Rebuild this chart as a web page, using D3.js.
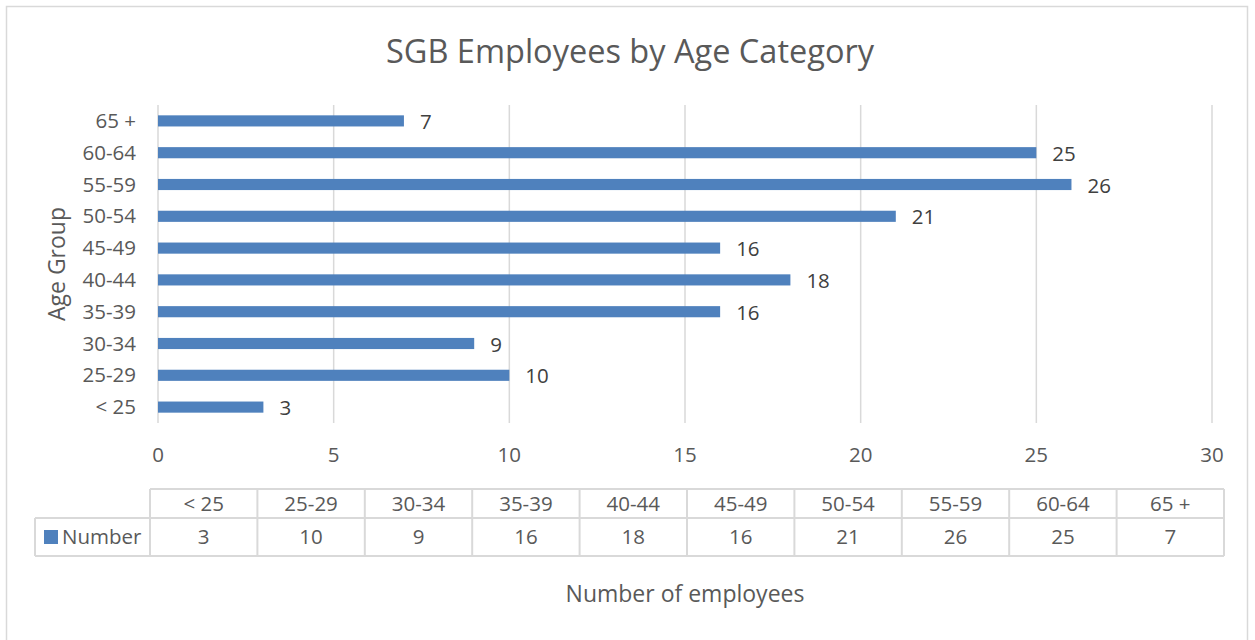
<!DOCTYPE html>
<html>
<head>
<meta charset="utf-8">
<script src="https://cdn.jsdelivr.net/npm/d3@7"></script>
<style>
  body { margin: 0; background: #fff; }
  text { font-family: "Open Sans", sans-serif; }
</style>
</head>
<body>
<script>
// size of the page
var w = 1255;
var h = 640;

// data
const ageGroups = ["< 25", "25-29", "30-34", "35-39", "40-44", "45-49", "50-54", "55-59", "60-64", "65 +"];
const employees = [3, 10, 9, 16, 18, 16, 21, 26, 25, 7];
const xTicks = [0, 5, 10, 15, 20, 25, 30];
const seriesName = "Number";

const rows = ageGroups.map((g, i) => ({ group: g, value: employees[i] }));

const blue = "#4f81bd";
const grid = "#d9d9d9";
const textCol = "#595959";
const fs = 20.5;

const svg = d3.select("body").append("svg")
  .attr("width", w)
  .attr("height", h);

// outer chart border
svg.append("rect")
  .attr("x", 6.5).attr("y", 6.5)
  .attr("width", 1241).attr("height", 640)
  .attr("fill", "#fff")
  .attr("stroke", grid)
  .attr("stroke-width", 1.5);

// title
svg.append("text")
  .attr("x", 630).attr("y", 63)
  .attr("text-anchor", "middle")
  .attr("font-size", 32.5)
  .attr("fill", textCol)
  .text("SGB Employees by Age Category");

// scales
const xScale = d3.scaleLinear().domain([0, 30]).range([158, 1212]);

const yScale = d3.scaleBand()
  .domain(ageGroups.slice().reverse())
  .range([105, 423])
  .paddingInner(0.65)
  .paddingOuter(0.325);

// vertical grid lines
svg.append("g").selectAll("line")
  .data(xTicks)
  .enter().append("line")
  .attr("x1", d => xScale(d)).attr("x2", d => xScale(d))
  .attr("y1", 105).attr("y2", 423)
  .attr("stroke", grid)
  .attr("stroke-width", 1.5);

// x tick labels
svg.append("g").selectAll("text")
  .data(xTicks)
  .enter().append("text")
  .attr("x", d => xScale(d))
  .attr("y", 462)
  .attr("text-anchor", "middle")
  .attr("font-size", fs)
  .attr("fill", textCol)
  .text(d => d);

// y labels
svg.append("g").selectAll("text")
  .data(ageGroups)
  .enter().append("text")
  .attr("x", 136)
  .attr("y", d => yScale(d) + yScale.bandwidth() / 2)
  .attr("dy", "0.35em")
  .attr("text-anchor", "end")
  .attr("font-size", fs)
  .attr("fill", textCol)
  .text(d => d);

// bars
svg.append("g").selectAll("rect")
  .data(rows)
  .enter().append("rect")
  .attr("x", xScale(0))
  .attr("y", d => yScale(d.group))
  .attr("width", d => xScale(d.value) - xScale(0))
  .attr("height", yScale.bandwidth())
  .attr("fill", blue);

// data labels
svg.append("g").selectAll("text")
  .data(rows)
  .enter().append("text")
  .attr("x", d => xScale(d.value) + 16)
  .attr("y", d => yScale(d.group) + yScale.bandwidth() / 2 + 1)
  .attr("dy", "0.35em")
  .attr("font-size", fs)
  .attr("fill", "#404040")
  .text(d => d.value);

// y axis title
svg.append("text")
  .attr("transform", "translate(65,264) rotate(-90)")
  .attr("text-anchor", "middle")
  .attr("font-size", 23)
  .attr("fill", textCol)
  .text("Age Group");

// data table below the chart
const colScale = d3.scaleBand().domain(ageGroups).range([150, 1224]);
const rowTop = 489, rowMid = 518, rowBot = 556;
const table = svg.append("g").attr("stroke", grid).attr("stroke-width", 2).attr("fill", "none");

table.append("line").attr("x1", 150).attr("x2", 1224).attr("y1", rowTop).attr("y2", rowTop);
table.append("line").attr("x1", 35).attr("x2", 1224).attr("y1", rowMid).attr("y2", rowMid);
table.append("line").attr("x1", 35).attr("x2", 1224).attr("y1", rowBot).attr("y2", rowBot);
table.append("line").attr("x1", 35).attr("x2", 35).attr("y1", rowMid).attr("y2", rowBot);
table.selectAll(".v")
  .data(ageGroups.concat(["end"]))
  .enter().append("line")
  .attr("x1", (d, i) => 150 + i * colScale.bandwidth())
  .attr("x2", (d, i) => 150 + i * colScale.bandwidth())
  .attr("y1", rowTop).attr("y2", rowBot);

svg.append("g").selectAll("text")
  .data(ageGroups)
  .enter().append("text")
  .attr("x", d => colScale(d) + colScale.bandwidth() / 2)
  .attr("y", (rowTop + rowMid) / 2)
  .attr("dy", "0.35em")
  .attr("text-anchor", "middle")
  .attr("font-size", fs)
  .attr("fill", textCol)
  .text(d => d);

svg.append("g").selectAll("text")
  .data(rows)
  .enter().append("text")
  .attr("x", d => colScale(d.group) + colScale.bandwidth() / 2)
  .attr("y", (rowMid + rowBot) / 2)
  .attr("dy", "0.35em")
  .attr("text-anchor", "middle")
  .attr("font-size", fs)
  .attr("fill", textCol)
  .text(d => d.value);

// legend key in table
svg.append("rect")
  .attr("x", 44).attr("y", 530)
  .attr("width", 14).attr("height", 14)
  .attr("fill", blue);
svg.append("text")
  .attr("x", 62).attr("y", (rowMid + rowBot) / 2)
  .attr("dy", "0.35em")
  .attr("font-size", fs)
  .attr("fill", textCol)
  .text(seriesName);

// x axis title
svg.append("text")
  .attr("x", 685).attr("y", 602)
  .attr("text-anchor", "middle")
  .attr("font-size", 23)
  .attr("fill", textCol)
  .text("Number of employees");
</script>
</body>
</html>
